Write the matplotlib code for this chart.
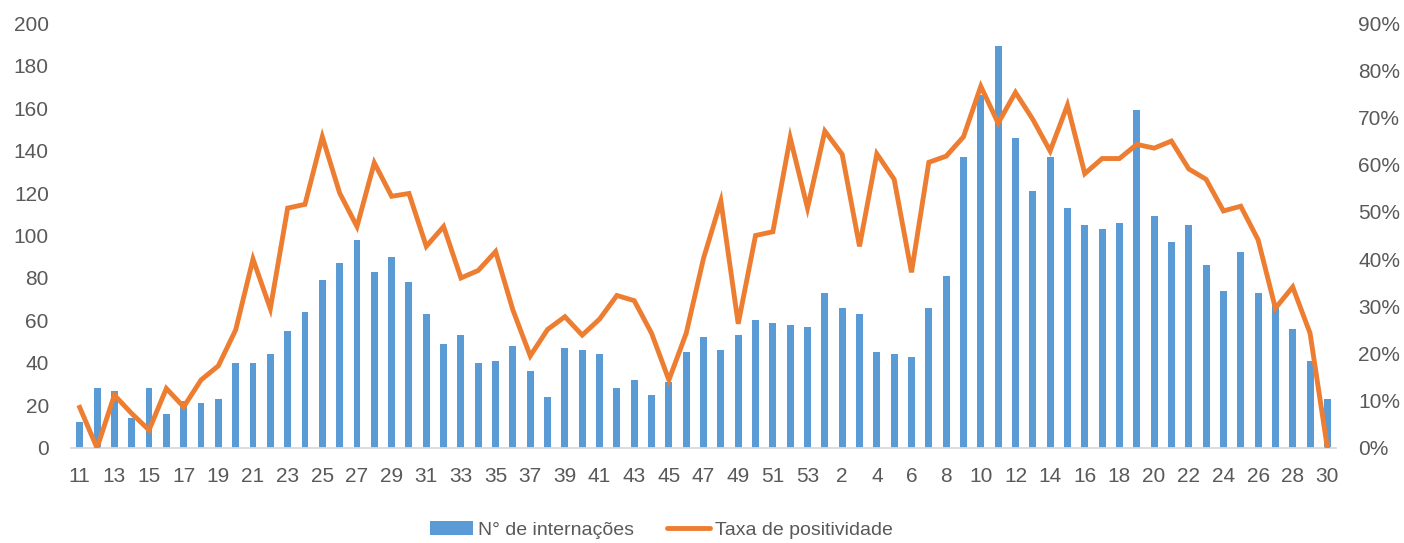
import numpy as np
import matplotlib.pyplot as plt
from matplotlib.patches import Patch
from matplotlib.lines import Line2D
from matplotlib.ticker import FuncFormatter

plt.rcParams['font.family'] = ['Liberation Sans', 'DejaVu Sans']

# semanas epidemiologicas: 11-53 (2020) e 1-30 (2021)
semanas = list(range(11, 54)) + list(range(1, 31))

internacoes = [12, 28, 27, 14, 28, 16, 22, 21, 23, 40,
               40, 44, 55, 64, 79, 87, 98, 83, 90, 78,
               63, 49, 53, 40, 41, 48, 36, 24, 47, 46,
               44, 28, 32, 25, 31, 45, 52, 46, 53, 60,
               59, 58, 57,
               73, 66, 63, 45, 44, 43, 66, 81, 137, 166,
               189, 146, 121, 137, 113, 105, 103, 106, 159, 109,
               97, 105, 86, 74, 92, 73, 68, 56, 41, 23]

positividade = [8.6, 0.0, 11.2, 7.3, 3.8, 12.6, 8.7, 14.4, 17.4, 25.0,
                40.0, 29.5, 50.8, 51.6, 65.9, 54.0, 46.9, 60.4, 53.3, 53.9,
                42.7, 46.9, 36.0, 37.6, 41.6, 29.2, 19.5, 25.1, 27.8, 23.9,
                27.3, 32.3, 31.2, 24.3, 14.4, 24.3, 40.2, 52.3, 26.3, 45.0,
                45.8, 65.7, 50.8,
                67.1, 62.2, 42.7, 62.3, 56.9, 37.2, 60.5, 61.8, 65.9, 76.6,
                68.8, 75.3, 69.6, 62.9, 72.6, 58.1, 61.3, 61.3, 64.3, 63.5,
                65.0, 59.1, 56.9, 50.2, 51.2, 44.1, 29.6, 34.1, 24.3, 0.0]

azul = '#5B9BD5'
laranja = '#ED7D31'
cinza = '#595959'

x = np.arange(len(semanas))

fig = plt.figure(figsize=(14.04, 5.43), dpi=100)
ax = fig.add_axes([0.0506, 0.175, 0.9010, 0.7826])
ax2 = ax.twinx()

ax.bar(x, internacoes, width=0.4, color=azul, zorder=2)
ax2.plot(x, positividade, color=laranja, linewidth=3.5, solid_joinstyle='miter', zorder=3)

ax.set_xlim(-0.5, len(x) - 0.5)
ax.set_ylim(0, 200)
ax.set_yticks(range(0, 201, 20))
ax2.set_ylim(0, 90)
ax2.set_yticks(range(0, 91, 10))
ax2.yaxis.set_major_formatter(FuncFormatter(lambda v, p: '%d%%' % v))

ax.set_xticks(x[::2])
ax.set_xticklabels([str(s) for s in semanas[::2]])

for a in (ax, ax2):
    for s in a.spines.values():
        s.set_visible(False)
    a.tick_params(length=0, labelsize=15, labelcolor=cinza)
ax.spines['bottom'].set_visible(True)
ax.spines['bottom'].set_color('#D9D9D9')
ax.spines['bottom'].set_linewidth(1.3)
ax.tick_params(axis='y', pad=16)
ax.tick_params(axis='x', pad=14)
ax2.tick_params(axis='y', pad=16)

handles = [Patch(facecolor=azul, edgecolor='none'),
           Line2D([0], [0], color=laranja, linewidth=3.5, solid_capstyle='round')]
fig.legend(handles, ['N° de internações', 'Taxa de positividade'],
           loc='center', bbox_to_anchor=(0.471, 0.024), ncol=2, frameon=False,
           fontsize=14, labelcolor=cinza, handlelength=2.2, handletextpad=0.25,
           columnspacing=1.7)

fig.savefig('out.png', dpi=100)
